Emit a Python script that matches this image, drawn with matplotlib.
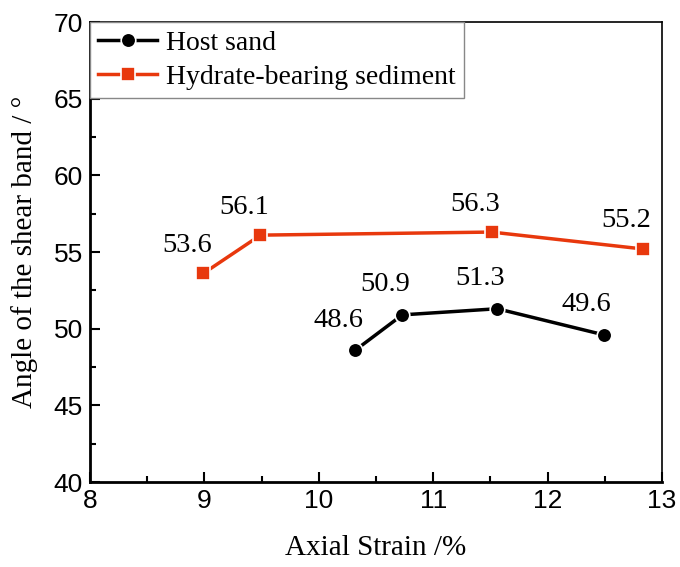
import matplotlib
matplotlib.use("Agg")
import matplotlib.pyplot as plt
from matplotlib.ticker import MultipleLocator

# Host sand
host_strain = [10.32, 10.73, 11.56, 12.49]
host_angle = [48.6, 50.9, 51.3, 49.6]

# Hydrate-bearing sediment
hyd_strain = [8.99, 9.49, 11.51, 12.83]
hyd_angle = [53.6, 56.1, 56.3, 55.2]

RED = '#e8380d'
SERIF = ['Liberation Serif', 'DejaVu Serif']
SANS = ['Liberation Sans', 'DejaVu Sans']

fig = plt.figure(figsize=(6.8, 5.67), dpi=100)
ax = fig.add_axes([90 / 680, 85 / 567, 572 / 680, 460 / 567])

ax.plot(host_strain, host_angle, '-o', color='black', lw=2.5, ms=10.5,
        mec='white', mew=1.2, label='Host sand')
ax.plot(hyd_strain, hyd_angle, '-s', color=RED, lw=2.5, ms=10,
        mec='white', mew=1.2, label='Hydrate-bearing sediment')

for x, y in zip(host_strain, host_angle):
    ax.annotate(f'{y:.1f}', (x, y), xytext=(-17, 30), textcoords='offset pixels',
                ha='center', va='center', fontsize=20.5, family=SERIF)
for x, y in zip(hyd_strain, hyd_angle):
    ax.annotate(f'{y:.1f}', (x, y), xytext=(-16, 28), textcoords='offset pixels',
                ha='center', va='center', fontsize=20.5, family=SERIF)

ax.set_xlim(8, 13)
ax.set_ylim(40, 70)
ax.xaxis.set_major_locator(MultipleLocator(1))
ax.xaxis.set_minor_locator(MultipleLocator(0.5))
ax.yaxis.set_major_locator(MultipleLocator(5))
ax.yaxis.set_minor_locator(MultipleLocator(2.5))
ax.tick_params(which='both', direction='in', top=False, right=False, width=1.5)
ax.tick_params(which='major', length=7, labelsize=19, pad=5)
ax.tick_params(which='minor', length=4)
for lab in ax.get_xticklabels() + ax.get_yticklabels():
    lab.set_family(SANS)

for side in ['left', 'bottom']:
    ax.spines[side].set_linewidth(2)
for side in ['top', 'right']:
    ax.spines[side].set_linewidth(1.2)

ax.set_xlabel('Axial Strain /%', fontsize=21, family=SERIF, labelpad=16)
ax.set_ylabel('Angle of the shear band / \u00b0', fontsize=21, family=SERIF, labelpad=11)

leg = ax.legend(loc='upper left', prop={'family': SERIF, 'size': 20},
                fancybox=False, framealpha=1, edgecolor='#888888',
                borderaxespad=0, handlelength=2.1, handletextpad=0.35,
                borderpad=0.3, labelspacing=0.3)
leg.get_frame().set_linewidth(1)

fig.savefig('out.png', dpi=100)
